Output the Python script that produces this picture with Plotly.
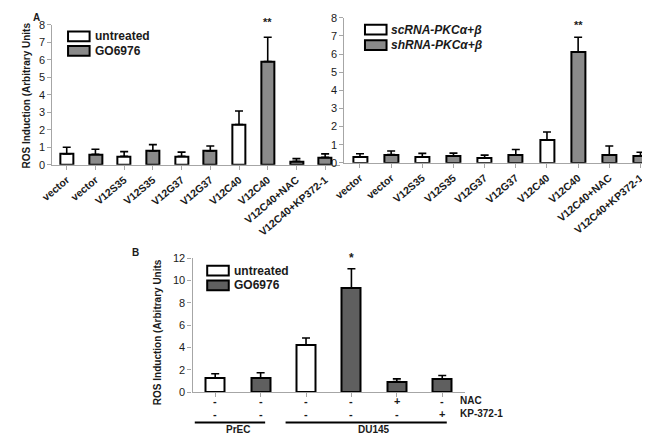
import plotly.graph_objects as go

W, H = 650, 434

# ---------------- data ----------------
a_labels = ["vector", "vector", "V12S35", "V12S35", "V12G37", "V12G37",
            "V12C40", "V12C40", "V12C40+NAC", "V12C40+KP372-1"]
a_left_treat = ["untreated", "GO6976", "untreated", "GO6976", "untreated", "GO6976",
                "untreated", "GO6976", "GO6976", "GO6976"]
a_left_vals = [0.62, 0.60, 0.48, 0.78, 0.48, 0.78, 2.30, 5.90, 0.20, 0.42]
a_left_sd = [0.38, 0.28, 0.27, 0.37, 0.24, 0.29, 0.77, 1.38, 0.15, 0.20]

a_right_treat = ["scRNA", "shRNA", "scRNA", "shRNA", "scRNA", "shRNA",
                 "scRNA", "shRNA", "shRNA", "shRNA"]
a_right_vals = [0.33, 0.45, 0.33, 0.37, 0.28, 0.42, 1.27, 6.10, 0.42, 0.37]
a_right_sd = [0.17, 0.20, 0.19, 0.16, 0.14, 0.31, 0.43, 0.83, 0.51, 0.21]

b_cells = ["PrEC", "PrEC", "DU145", "DU145", "DU145", "DU145"]
b_treat = ["untreated", "GO6976", "untreated", "GO6976", "GO6976", "GO6976"]
b_vals = [1.30, 1.30, 4.25, 9.30, 0.95, 1.20]
b_sd = [0.35, 0.45, 0.60, 1.75, 0.25, 0.30]
b_nac = ["-", "-", "-", "-", "+", "-"]
b_kp = ["-", "-", "-", "-", "-", "+"]

y_title = "ROS Induction (Arbitrary Units"

# ---------------- styles ----------------
FONT = "Liberation Sans, Arial, sans-serif"
GRAY_A = "#8a8a8a"
GRAY_B = "#5f5f5f"
AXC = "#a6a6a6"
TXT = "#1a1a1a"

def px(x):
    return x / W

def py(y):
    return 1 - y / H

fig = go.Figure()

def add_panel(idx, vals, sd, treat, gray, width, white_keys):
    colors = ["white" if t in white_keys else gray for t in treat]
    fig.add_trace(go.Bar(
        x=list(range(len(vals))), y=vals,
        marker=dict(color=colors, line=dict(color="black", width=2)),
        width=width,
        error_y=dict(type="data", array=sd, arrayminus=[0] * len(sd),
                     symmetric=False, color="black", thickness=1.6, width=4),
        xaxis="x" + ("" if idx == 1 else str(idx)),
        yaxis="y" + ("" if idx == 1 else str(idx)),
        showlegend=False, hoverinfo="skip",
    ))

add_panel(1, a_left_vals, a_left_sd, a_left_treat, GRAY_A, 0.45, {"untreated"})
add_panel(2, a_right_vals, a_right_sd, a_right_treat, GRAY_A, 0.45, {"scRNA"})
add_panel(3, b_vals, b_sd, b_treat, GRAY_B, 0.42, {"untreated"})

xcommon = dict(showline=True, linecolor=AXC, linewidth=1.2, ticks="outside",
               tickcolor=AXC, ticklen=4, tickson="boundaries", showgrid=False,
               zeroline=False, fixedrange=True)
ycommon = dict(showline=True, linecolor=AXC, linewidth=1.2, ticks="outside",
               tickcolor=AXC, ticklen=4, showgrid=False, zeroline=False,
               tickfont=dict(family=FONT, size=11, color=TXT))

tickfontA = dict(family=FONT, size=10.5, color=TXT)

fig.update_layout(
    width=W, height=H, margin=dict(l=0, r=0, t=0, b=0),
    paper_bgcolor="white", plot_bgcolor="white", bargap=0,
    font=dict(family=FONT, color=TXT),
    xaxis=dict(domain=[px(32), px(325)], anchor="y", range=[-0.5, 9.5],
               tickvals=list(range(len(a_labels))), ticktext=["<b>%s</b>" % t for t in a_labels],
               tickangle=-40, tickfont=tickfontA, **xcommon),
    yaxis=dict(domain=[py(155), py(11)], anchor="x", range=[0, 8], dtick=1, **ycommon),
    xaxis2=dict(domain=[px(330), px(648)], anchor="y2", range=[-0.5, 9.5],
                tickvals=list(range(len(a_labels))), ticktext=["<b>%s</b>" % t for t in a_labels],
                tickangle=-40, tickfont=tickfontA, **xcommon),
    yaxis2=dict(domain=[py(153), py(4)], anchor="x2", range=[0, 8], dtick=1, **ycommon),
    xaxis3=dict(domain=[px(175), px(453)], anchor="y3", range=[-0.5, 5.5],
                tickvals=list(range(len(b_vals))), ticktext=[""] * len(b_vals), **xcommon),
    yaxis3=dict(domain=[py(389), py(251)], anchor="x3", range=[0, 12], dtick=2, **ycommon),
)

ann = []
shapes = []

def text(x, y, s, size=10, xanchor="center", yanchor="middle", angle=0, ref=("paper", "paper"), color=TXT):
    ann.append(dict(x=x, y=y, xref=ref[0], yref=ref[1], text=s, showarrow=False,
                    font=dict(family=FONT, size=size, color=color),
                    xanchor=xanchor, yanchor=yanchor, textangle=angle, borderpad=0))

# panel letters and y titles
text(px(16), py(4), "<b>A</b>", size=10)
text(px(117), py(245), "<b>B</b>", size=10)
text(px(6), py(84), "<b>%s</b>" % y_title, size=10, angle=-90)
text(px(140), py(327), "<b>%s</b>" % y_title, size=10, angle=-90)

# legends
def legend(x0, y_rows, items):
    for (yc, fill, label) in zip(y_rows, [i[0] for i in items], [i[1] for i in items]):
        shapes.append(dict(type="rect", xref="paper", yref="paper",
                           x0=px(x0), x1=px(x0 + 22), y0=py(yc + 5), y1=py(yc - 5),
                           line=dict(color="black", width=2), fillcolor=fill))
        text(px(x0 + 26), py(yc), label, size=12, xanchor="left")

legend(48, [23, 38], [("white", "<b>untreated</b>"), (GRAY_A, "<b>GO6976</b>")])
legend(351, [16, 32], [("white", "<b><i>scRNA-PKCα+β</i></b>"), (GRAY_A, "<b><i>shRNA-PKCα+β</i></b>")])
legend(190, [264, 279], [("white", "<b>untreated</b>"), (GRAY_B, "<b>GO6976</b>")])

# significance stars
text(7, 7.75, "<b>**</b>", size=11, ref=("x", "y"), yanchor="bottom")
text(7, 7.2, "<b>**</b>", size=11, ref=("x2", "y2"), yanchor="bottom")
text(3, 11.3, "<b>*</b>", size=12, ref=("x3", "y3"), yanchor="bottom")

# B treatment table
for i, (n, k) in enumerate(zip(b_nac, b_kp)):
    text(i, py(398), "<b>%s</b>" % n, size=11, ref=("x3", "paper"))
    text(i, py(411), "<b>%s</b>" % k, size=11, ref=("x3", "paper"))
text(px(447), py(398), "<b>NAC</b>", size=10, xanchor="left")
text(px(447), py(411), "<b>KP-372-1</b>", size=10, xanchor="left")

# cell line brackets
groups = []
for i, c in enumerate(b_cells):
    if groups and groups[-1][0] == c:
        groups[-1][2] = i
    else:
        groups.append([c, i, i])
for c, i0, i1 in groups:
    shapes.append(dict(type="line", xref="x3", yref="paper", x0=i0 - 0.45, x1=i1 + 0.1,
                       y0=py(420), y1=py(420), line=dict(color="black", width=2)))
    text((i0 + i1) / 2, py(433.5), "<b>%s</b>" % c, size=10, ref=("x3", "paper"), yanchor="bottom")

fig.update_layout(annotations=ann, shapes=shapes)
fig.write_html("out.html")
